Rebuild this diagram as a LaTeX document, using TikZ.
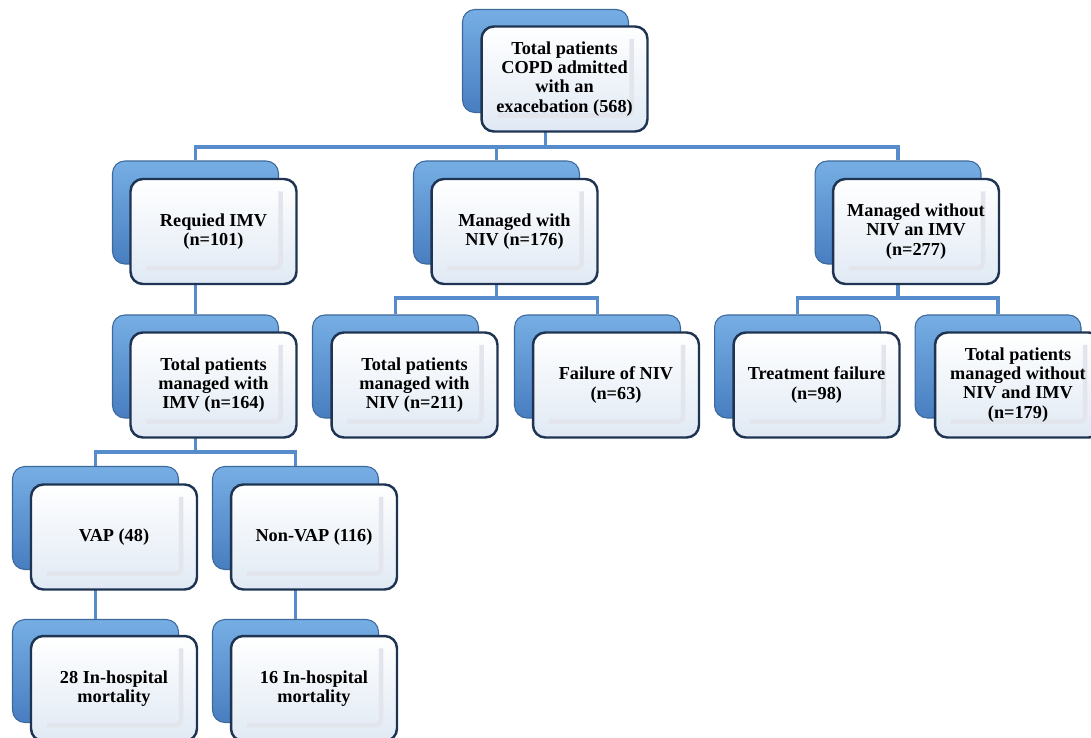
\documentclass[tikz,border=0pt]{standalone}
\usepackage{fontspec}
\setmainfont{Liberation Serif}

\tikzset{
    backbox/.style={rectangle, rounded corners=7pt, minimum width=3.32cm, minimum height=2.06cm,
        top color=blueTop, bottom color=blueBot, draw=blueEdge, line width=0.6pt},
    frontbox/.style={rectangle, rounded corners=7pt, minimum width=3.32cm, minimum height=2.1cm,
        top color=white, bottom color=paleBot, draw=navyEdge, line width=1.4pt,
        font=\fontsize{10.4}{10.9}\selectfont\bfseries, align=center, text=black,
        path picture={
            \draw[bevelGray, line width=2.5pt, rounded corners=3pt]
                ([shift={(-9pt, -7pt)}]path picture bounding box.north east)
                -- ([shift={(-9pt, 9pt)}]path picture bounding box.south east)
                -- ([shift={(9pt, 9pt)}]path picture bounding box.south west);
        }},
    link/.style={draw=linkBlue, line width=1.8pt},
}
\definecolor{blueTop}{RGB}{118,174,228}
\definecolor{blueBot}{RGB}{72,126,192}
\definecolor{blueEdge}{RGB}{60,104,156}
\definecolor{paleBot}{RGB}{224,233,244}
\definecolor{navyEdge}{RGB}{30,52,82}
\definecolor{linkBlue}{RGB}{86,140,204}
\definecolor{bevelGray}{RGB}{226,230,236}

\begin{document}
\begin{tikzpicture}[x=0.02cm, y=-0.02cm]
    \useasboundingbox (0, 0) rectangle (1091, 737);
    \clip (0, 0) rectangle (1091, 737);

    % bus lines
    \coordinate (busA) at (0, 147);
    \coordinate (busB) at (0, 298);
    \coordinate (busC) at (0, 452);

    % back boxes
    \node[backbox] (topB) at (545.5, 61) {};
    \node[backbox] (imvB) at (195.5, 212.5) {};
    \node[backbox] (nivB) at (496.5, 212.5) {};
    \node[backbox] (nonB) at (898, 212.5) {};
    \node[backbox] (imvtotB) at (195.5, 366.5) {};
    \node[backbox] (nivtotB) at (395.5, 366.5) {};
    \node[backbox] (nivfailB) at (597.5, 366.5) {};
    \node[backbox] (trtfailB) at (797.5, 366.5) {};
    \node[backbox] (nontotB) at (998, 366.5) {};
    \node[backbox] (vapB) at (95.5, 518) {};
    \node[backbox] (nonvapB) at (295.5, 518) {};
    \node[backbox] (mortaB) at (95.5, 671) {};
    \node[backbox] (mortbB) at (295.5, 671) {};

    % connectors
    \draw[link] (topB |- 0,131) -- (topB |- busA) -| (imvB.north);
    \draw[link] (topB |- busA) -| (nivB.north);
    \draw[link] (topB |- busA) -| (nonB.north);
    \draw[link] (imvB |- 0,285) -- (imvtotB.north);
    \draw[link] (nivB |- 0,285) -- (nivB |- busB) -| (nivtotB.north);
    \draw[link] (nivB |- busB) -| (nivfailB.north);
    \draw[link] (nonB |- 0,285) -- (nonB |- busB) -| (trtfailB.north);
    \draw[link] (nonB |- busB) -| (nontotB.north);
    \draw[link] (imvtotB |- 0,437) -- (imvtotB |- busC) -| (vapB.north);
    \draw[link] (imvtotB |- busC) -| (nonvapB.north);
    \draw[link] (vapB |- 0,590) -- (mortaB.north);
    \draw[link] (nonvapB |- 0,590) -- (mortbB.north);

    % front boxes
    \node[frontbox] (top) at ([shift={(19, 18)}]topB) {Total patients\\COPD admitted\\with an\\exacebation (568)};
    \node[frontbox] (imv) at ([shift={(18, 19)}]imvB) {Requied IMV\\(n=101)};
    \node[frontbox] (niv) at ([shift={(18, 19)}]nivB) {Managed with\\NIV (n=176)};
    \node[frontbox] (non) at ([shift={(18, 19)}]nonB) {Managed without\\NIV an IMV\\(n=277)};
    \node[frontbox] (imvtot) at ([shift={(18, 18.5)}]imvtotB) {Total patients\\managed with\\IMV (n=164)};
    \node[frontbox] (nivtot) at ([shift={(19, 18.5)}]nivtotB) {Total patients\\managed with\\NIV (n=211)};
    \node[frontbox] (nivfail) at ([shift={(18.5, 18.5)}]nivfailB) {Failure of NIV\\(n=63)};
    \node[frontbox] (trtfail) at ([shift={(19, 18.5)}]trtfailB) {Treatment failure\\(n=98)};
    \node[frontbox] (nontot) at ([shift={(20, 18.5)}]nontotB) {Total patients\\managed without\\NIV and IMV\\(n=179)};
    \node[frontbox] (vap) at ([shift={(18.5, 19)}]vapB) {VAP (48)};
    \node[frontbox] (nonvap) at ([shift={(18.5, 19)}]nonvapB) {Non-VAP (116)};
    \node[frontbox] (morta) at ([shift={(18.5, 17.5)}]mortaB) {28 In-hospital\\mortality};
    \node[frontbox] (mortb) at ([shift={(18.5, 17.5)}]mortbB) {16 In-hospital\\mortality};
\end{tikzpicture}
\end{document}
